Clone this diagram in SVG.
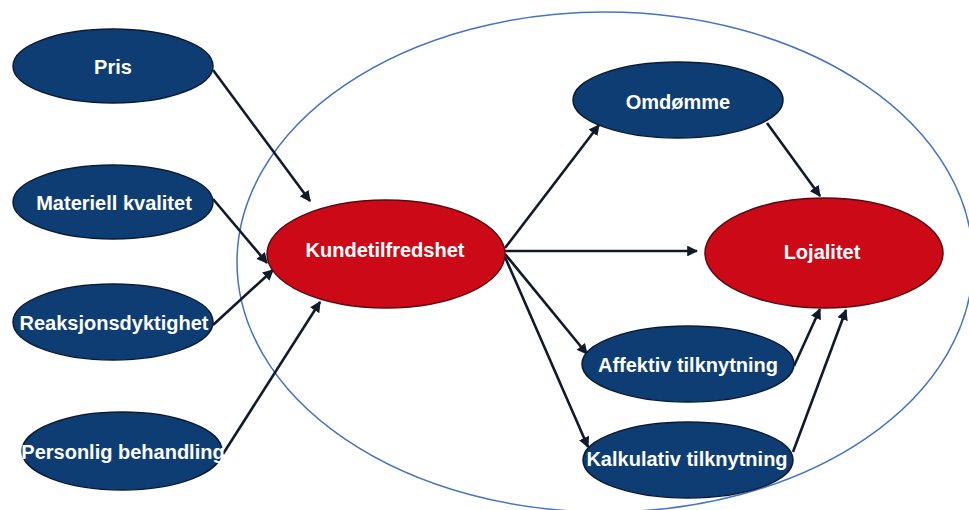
<svg xmlns="http://www.w3.org/2000/svg" width="969" height="510" viewBox="0 0 969 510">
<style>
.blue{fill:#0e3d74;stroke:#0a1c33;stroke-width:1.5}
.red{fill:#cc0a17;stroke:#5a0a10;stroke-width:1.5}
.t{fill:#ffffff;font-family:"Liberation Sans",Arial,sans-serif;font-weight:bold;font-size:20px;text-anchor:middle}
.c{stroke:#0f1a2b;stroke-width:2.6;fill:none;marker-end:url(#ah)}
</style>
<defs>
<marker id="ah" viewBox="0 0 10 10" refX="9" refY="5" markerWidth="4.2" markerHeight="4.2" orient="auto" markerUnits="strokeWidth">
<path d="M0,0 L10,5 L0,10 z" fill="#0f1a2b"/>
</marker>
</defs>
<rect width="969" height="510" fill="#ffffff"/>
<ellipse cx="605" cy="262" rx="368" ry="250" fill="none" stroke="#4472c4" stroke-width="1.5"/>
<g id="connectors">
<line class="c" x1="213" y1="70" x2="310" y2="201"/>
<line class="c" x1="213" y1="199" x2="267" y2="263"/>
<line class="c" x1="213" y1="325" x2="273" y2="270"/>
<line class="c" x1="223" y1="454" x2="320" y2="302"/>
<line class="c" x1="505" y1="248" x2="599" y2="125"/>
<line class="c" x1="505" y1="251" x2="697" y2="251"/>
<line class="c" x1="505" y1="254" x2="587" y2="354"/>
<line class="c" x1="505" y1="257" x2="588" y2="447"/>
<line class="c" x1="767" y1="123" x2="820" y2="196"/>
<line class="c" x1="794" y1="366" x2="820" y2="309"/>
<line class="c" x1="793" y1="452" x2="846" y2="310"/>
</g>
<g id="pris"><ellipse class="blue" cx="113" cy="66" rx="100" ry="37"/><text class="t" x="113" y="74">Pris</text></g>
<g id="materiell"><ellipse class="blue" cx="113" cy="202" rx="100" ry="37"/><text class="t" x="114" y="210">Materiell kvalitet</text></g>
<g id="reaksjon"><ellipse class="blue" cx="113" cy="322" rx="100" ry="38"/><text class="t" x="114" y="330">Reaksjonsdyktighet</text></g>
<g id="personlig"><ellipse class="blue" cx="122" cy="451" rx="100" ry="39"/><text class="t" x="123" y="459">Personlig behandling</text></g>
<g id="kundetilfredshet"><ellipse class="red" cx="386" cy="254" rx="119" ry="54"/><text class="t" x="385" y="257">Kundetilfredshet</text></g>
<g id="omdomme"><ellipse class="blue" cx="678" cy="100" rx="105" ry="38"/><text class="t" x="678" y="109">Omdømme</text></g>
<g id="lojalitet"><ellipse class="red" cx="824" cy="253" rx="119" ry="55"/><text class="t" x="822" y="259">Lojalitet</text></g>
<g id="affektiv"><ellipse class="blue" cx="688" cy="364" rx="106" ry="38"/><text class="t" x="688" y="372">Affektiv tilknytning</text></g>
<g id="kalkulativ"><ellipse class="blue" cx="688" cy="460" rx="105" ry="38"/><text class="t" x="687" y="466">Kalkulativ tilknytning</text></g>
</svg>
